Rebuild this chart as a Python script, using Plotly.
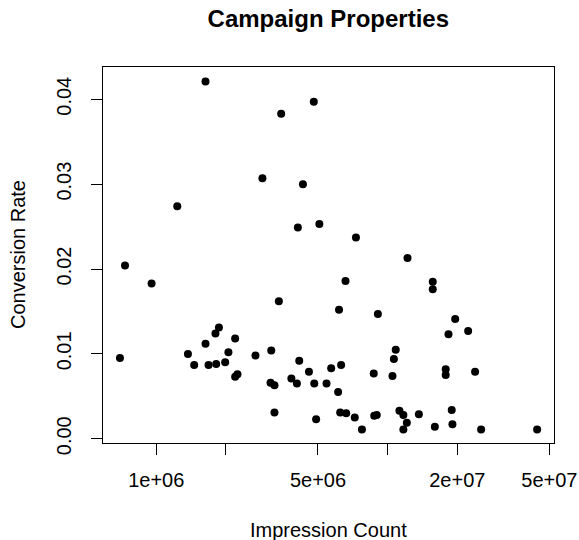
import plotly.graph_objects as go

impressions = [
    697000, 733000, 955000, 1233000, 1371000, 1459000, 1633000, 1633000,
    1683000, 1803000, 1816000, 1866000, 1986000, 2051000, 2193000, 2193000,
    2244000, 2685000, 2877000, 3119000, 3141000, 3243000, 3243000, 3388000,
    3467000, 3837000, 4055000, 4093000, 4150000, 4305000, 4571000, 4797000,
    4819000, 4909000, 5070000, 5445000, 5702000, 6109000, 6166000, 6237000,
    6295000, 6577000, 6622000, 7211000, 7295000, 7745000, 8710000, 8750000,
    8974000, 9078000, 10495000, 10641000, 10839000, 11246000, 11695000, 11695000,
    12106000, 12190000, 13646000, 15668000, 15668000, 15996000, 17824000, 17824000,
    18323000, 18923000, 19055000, 19588000, 22284000, 23878000, 25351000, 44259000,
]
conversion = [
    0.0095, 0.0204, 0.0183, 0.0274, 0.0100, 0.0087, 0.0421, 0.0112,
    0.0087, 0.0124, 0.0088, 0.0131, 0.0090, 0.0102, 0.0118, 0.0073,
    0.0076, 0.0098, 0.0307, 0.0066, 0.0104, 0.0063, 0.0031, 0.0162,
    0.0383, 0.0071, 0.0065, 0.0249, 0.0092, 0.0300, 0.0079, 0.0397,
    0.0065, 0.0023, 0.0253, 0.0065, 0.0083, 0.0055, 0.0152, 0.0031,
    0.0087, 0.0186, 0.0030, 0.0025, 0.0237, 0.0011, 0.0077, 0.0027,
    0.0028, 0.0147, 0.0074, 0.0094, 0.0105, 0.0033, 0.0028, 0.0011,
    0.0019, 0.0213, 0.0029, 0.0185, 0.0176, 0.0014, 0.0082, 0.0075,
    0.0123, 0.0034, 0.0017, 0.0141, 0.0127, 0.0079, 0.0011, 0.0011,
]

x_tickvals = [1e6, 2e6, 5e6, 1e7, 2e7, 5e7]
x_ticktext = ["1e+06", "", "5e+06", "", "2e+07", "5e+07"]
y_tickvals = [0.00, 0.01, 0.02, 0.03, 0.04]
y_ticktext = ["0.00", "0.01", "0.02", "0.03", "0.04"]

FONT = "Liberation Sans, Arial, sans-serif"
W, H = 579, 540

# target plot-area box in page pixels
PL, PR, PT, PB = 102.7, 554.0, 67.3, 443.3

fig = go.Figure(
    go.Scatter(
        x=impressions, y=conversion, mode="markers",
        marker=dict(color="black", size=8, line=dict(width=0)),
        hoverinfo="skip",
    )
)

fig.update_layout(
    width=W, height=H,
    margin=dict(l=PL, r=W - PR, t=PT, b=H - PB, pad=0, autoexpand=False),
    paper_bgcolor="white", plot_bgcolor="white",
    showlegend=False,
    font=dict(family=FONT, size=20, color="black"),
    title=dict(
        text="<b>Campaign Properties</b>",
        x=328.3 / W, xanchor="center",
        y=1 - 18.5 / H, yanchor="middle", yref="container",
        font=dict(family=FONT, size=24, color="black"),
    ),
    xaxis=dict(
        type="log", range=[5.770, 7.719], automargin=False,
        tickvals=x_tickvals, ticktext=x_ticktext,
        ticks="outside", ticklen=11, tickwidth=1, tickcolor="black",
        showline=True, linecolor="black", linewidth=1, mirror=True,
        showgrid=False, zeroline=False, ticklabeloverflow="allow",
        tickfont=dict(size=20), ticklabelstandoff=8,
    ),
    yaxis=dict(
        range=[-0.0005, 0.0438], automargin=False,
        tickvals=y_tickvals, ticktext=y_ticktext, tickangle=-90,
        ticks="outside", ticklen=11, tickwidth=1, tickcolor="black",
        showline=True, linecolor="black", linewidth=1, mirror=True,
        showgrid=False, zeroline=False,
        tickfont=dict(size=20), ticklabelstandoff=12,
    ),
    annotations=[
        dict(text="Impression Count", xref="paper", yref="paper",
             x=0.5, y=0, yshift=-87, xanchor="center", yanchor="middle",
             showarrow=False, font=dict(size=20)),
        dict(text="Conversion Rate", xref="paper", yref="paper",
             x=0, y=0.5, xshift=-85, xanchor="center", yanchor="middle",
             textangle=-90, showarrow=False, font=dict(size=20)),
    ],
)

# remove the browser's default 8px body margin so the figure fills the window
fig.write_html(
    "out.html",
    config={"displayModeBar": False},
    post_script="document.body.style.margin='0';document.body.style.overflow='hidden';",
)
